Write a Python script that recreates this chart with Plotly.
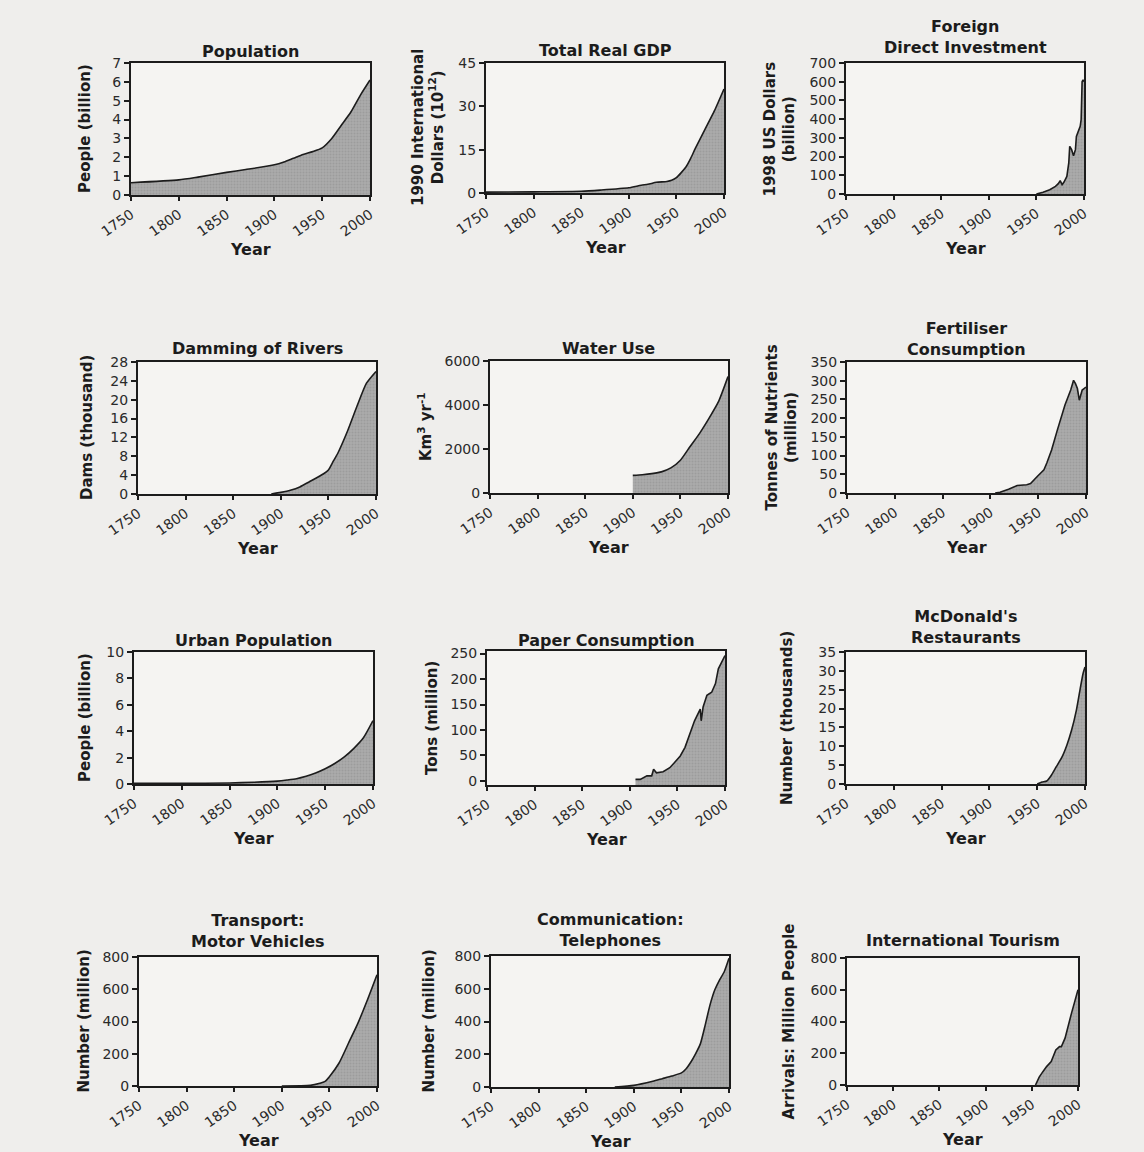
import plotly.graph_objects as go

W, H = 1144, 1152

# ---- data -------------------------------------------------------------
pop_years = [1750, 1800, 1820, 1850, 1870, 1900, 1910, 1920, 1930, 1940, 1950, 1960, 1970, 1980, 1990, 2000]
pop_vals = [0.65, 0.8, 0.95, 1.2, 1.35, 1.6, 1.75, 1.95, 2.15, 2.3, 2.5, 3.0, 3.7, 4.4, 5.3, 6.1]

gdp_years = [1750, 1800, 1850, 1870, 1900, 1913, 1920, 1929, 1940, 1945, 1950, 1960, 1965, 1970, 1980, 1990, 2000]
gdp_vals = [0.3, 0.4, 0.6, 1.0, 1.8, 2.7, 3.0, 3.7, 4.0, 4.4, 5.3, 9.0, 12.0, 15.5, 22.0, 28.5, 36.0]

fdi_years = [1950, 1957, 1964, 1970, 1973, 1975, 1977, 1979, 1982, 1984, 1985, 1987, 1989, 1991, 1992, 1994, 1996, 1997, 1998, 1999, 2000]
fdi_vals = [0, 9, 23, 41, 55, 71, 50, 64, 94, 166, 255, 237, 205, 237, 308, 335, 362, 397, 600, 610, 600]

dam_years = [1890, 1900, 1910, 1920, 1930, 1945, 1950, 1955, 1960, 1970, 1980, 1990, 2000]
dam_vals = [0, 0.35, 0.8, 1.5, 2.6, 4.3, 5.1, 6.9, 8.7, 13.3, 18.6, 23.5, 26.0]

water_years = [1900, 1910, 1920, 1930, 1940, 1950, 1960, 1970, 1980, 1990, 2000]
water_vals = [800, 830, 880, 960, 1140, 1490, 2100, 2700, 3390, 4150, 5290]

fert_years = [1905, 1910, 1919, 1928, 1938, 1942, 1949, 1956, 1959, 1964, 1970, 1975, 1978, 1984, 1987, 1989, 1991, 1993, 1996, 1998, 2000]
fert_vals = [0, 2, 10, 20, 22, 25, 44, 62, 80, 115, 168, 213, 235, 275, 301, 292, 279, 248, 275, 279, 283]

urban_years = [1750, 1800, 1850, 1875, 1900, 1910, 1920, 1930, 1940, 1950, 1960, 1970, 1980, 1990, 2000]
urban_vals = [0.05, 0.05, 0.08, 0.13, 0.22, 0.3, 0.4, 0.58, 0.83, 1.15, 1.55, 2.05, 2.7, 3.5, 4.8]

paper_years = [1906, 1911, 1918, 1923, 1925, 1928, 1935, 1942, 1947, 1953, 1958, 1963, 1968, 1974, 1975, 1977, 1981, 1986, 1990, 1993, 1997, 2000]
paper_vals = [3, 3, 10, 10, 23, 16, 18, 26, 36, 49, 66, 92, 118, 141, 118, 145, 168, 174, 191, 220, 236, 246]

mcd_years = [1950, 1955, 1960, 1965, 1970, 1976, 1981, 1986, 1991, 1995, 1998, 2000]
mcd_vals = [0, 0.5, 0.8, 2.4, 4.6, 7.2, 10.3, 14.3, 19.6, 25.3, 29.3, 31.0]

car_years = [1900, 1930, 1940, 1945, 1950, 1960, 1970, 1980, 1990, 2000]
car_vals = [0, 4, 17, 27, 58, 141, 265, 390, 535, 690]

phone_years = [1880, 1900, 1920, 1930, 1940, 1950, 1955, 1960, 1965, 1970, 1975, 1980, 1985, 1990, 1995, 2000]
phone_vals = [0, 10, 35, 51, 67, 86, 112, 153, 204, 265, 378, 500, 592, 653, 704, 786]

tour_years = [1954, 1958, 1962, 1966, 1971, 1976, 1980, 1982, 1986, 1989, 1993, 1996, 2000]
tour_vals = [0, 50, 84, 116, 147, 221, 242, 242, 295, 368, 453, 516, 600]

year_ticks = [1750, 1800, 1850, 1900, 1950, 2000]

# ---- panel layout (pixel boxes: left, right, top, bottom) ---------------
panels = [
    dict(x=pop_years, y=pop_vals, title="Population", ytitle="People (billion)",
         box=(131, 370, 63, 195), yr=[0, 7], dt=1, ty=52, yx=85, shape="spline"),
    dict(x=gdp_years, y=gdp_vals, title="Total Real GDP",
         ytitle="1990 International<br>Dollars (10<sup>12</sup>)",
         box=(486, 724, 63, 193), yr=[0, 45], dt=15, ty=50, yx=428, shape="spline"),
    dict(x=fdi_years, y=fdi_vals, title="Foreign<br>Direct Investment",
         ytitle="1998 US Dollars<br>(billion)",
         box=(846, 1084, 63, 194), yr=[0, 700], dt=100, ty=37, yx=780, shape="linear"),
    dict(x=dam_years, y=dam_vals, title="Damming of Rivers", ytitle="Dams (thousand)",
         box=(138, 376, 362, 494), yr=[0, 28], dt=4, ty=349, yx=87, shape="spline"),
    dict(x=water_years, y=water_vals, title="Water Use", ytitle="Km<sup>3</sup> yr<sup>-1</sup>",
         box=(490, 728, 361, 493), yr=[0, 6000], dt=2000, ty=349, yx=425, shape="spline"),
    dict(x=fert_years, y=fert_vals, title="Fertiliser<br>Consumption",
         ytitle="Tonnes of Nutrients<br>(million)",
         box=(847, 1086, 362, 493), yr=[0, 350], dt=50, ty=339, yx=781, shape="linear"),
    dict(x=urban_years, y=urban_vals, title="Urban Population", ytitle="People (billion)",
         box=(134, 373, 652, 784), yr=[0, 10], dt=2, ty=640, yx=85, shape="spline"),
    dict(x=paper_years, y=paper_vals, title="Paper Consumption", ytitle="Tons (million)",
         box=(487, 725, 651, 785), yr=[-8, 255], dt=50, ty=640, yx=432, shape="linear"),
    dict(x=mcd_years, y=mcd_vals, title="McDonald's<br>Restaurants", ytitle="Number (thousands)",
         box=(846, 1085, 652, 784), yr=[0, 35], dt=5, ty=627, yx=787, shape="spline"),
    dict(x=car_years, y=car_vals, title="Transport:<br>Motor Vehicles", ytitle="Number (million)",
         box=(139, 377, 957, 1086), yr=[0, 800], dt=200, ty=931, yx=83, shape="spline"),
    dict(x=phone_years, y=phone_vals, title="Communication:<br>Telephones", ytitle="Number (million)",
         box=(491, 729, 956, 1087), yr=[0, 800], dt=200, ty=930, yx=428, shape="spline"),
    dict(x=tour_years, y=tour_vals, title="International Tourism", ytitle="Arrivals: Million People",
         box=(847, 1078, 958, 1085), yr=[0, 800], dt=200, ty=940, yx=788, shape="linear"),
]

INK = "#1c1c1c"
TICK_FONT = dict(family="DejaVu Sans", size=14, color="#2a2a2a")
BOLD = "DejaVu Sans"

fig = go.Figure()
annotations = []
layout_axes = {}


def px_x(v):
    return v / W


def px_y(v):
    return 1 - v / H


for i, p in enumerate(panels, start=1):
    xa = "x" if i == 1 else f"x{i}"
    ya = "y" if i == 1 else f"y{i}"
    l, r, t, b = p["box"]
    base = p["yr"][0]

    # baseline at the bottom of the value axis, area filled up to the series
    fig.add_trace(go.Scatter(
        x=[p["x"][0], p["x"][-1]], y=[base, base], mode="lines",
        line=dict(width=0, color="rgba(0,0,0,0)"), hoverinfo="skip",
        showlegend=False, xaxis=xa, yaxis=ya,
    ))
    fig.add_trace(go.Scatter(
        x=p["x"], y=p["y"], mode="lines", fill="tonexty",
        line=dict(color=INK, width=1.6, shape=p["shape"], smoothing=0.6),
        fillcolor="#a6a6a6",
        fillpattern=dict(shape=".", bgcolor="#ababab", fgcolor="#8e8e8e",
                         size=3, solidity=0.35),
        showlegend=False, xaxis=xa, yaxis=ya,
    ))

    layout_axes[f"xaxis{'' if i == 1 else i}"] = dict(
        domain=[px_x(l), px_x(r)], anchor=ya, range=[1750, 2000],
        tickvals=year_ticks, tickangle=-35, ticks="outside", ticklen=4,
        tickwidth=1.5, tickcolor=INK, showline=True, mirror=True,
        linewidth=2, linecolor=INK, showgrid=False, zeroline=False,
        tickfont=TICK_FONT, automargin=False,
    )
    lo, hi = p["yr"]
    yt = list(range(0, int(hi) + 1, p["dt"]))
    layout_axes[f"yaxis{'' if i == 1 else i}"] = dict(
        domain=[px_y(b), px_y(t)], anchor=xa, range=[lo, hi],
        tickvals=yt, ticks="outside", ticklen=5, tickwidth=1.5,
        tickcolor=INK, showline=True, mirror=True, linewidth=2,
        linecolor=INK, showgrid=False, zeroline=False, tickfont=TICK_FONT,
        automargin=False,
    )

    cx = (l + r) / 2
    # chart title
    annotations.append(dict(
        text=f"<b>{p['title']}</b>", x=px_x(cx), y=px_y(p["ty"]),
        xref="paper", yref="paper", xanchor="center", yanchor="middle",
        showarrow=False, font=dict(family=BOLD, size=16, color=INK),
    ))
    # value-axis title
    annotations.append(dict(
        text=f"<b>{p['ytitle']}</b>", x=px_x(p["yx"]), y=px_y((t + b) / 2),
        xref="paper", yref="paper", xanchor="center", yanchor="middle",
        textangle=-90, showarrow=False,
        font=dict(family=BOLD, size=15, color=INK),
    ))
    # year-axis title
    annotations.append(dict(
        text="<b>Year</b>", x=px_x(cx), y=px_y(b + 54),
        xref="paper", yref="paper", xanchor="center", yanchor="middle",
        showarrow=False, font=dict(family=BOLD, size=16, color=INK),
    ))

fig.update_layout(
    width=W, height=H, margin=dict(l=0, r=0, t=0, b=0),
    paper_bgcolor="#efeeec", plot_bgcolor="#f5f4f2",
    showlegend=False, annotations=annotations, **layout_axes,
)

fig.write_html("out.html")
